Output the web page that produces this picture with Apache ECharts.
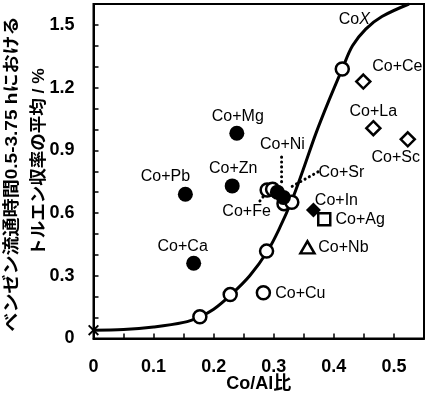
<!DOCTYPE html>
<html><head><meta charset="utf-8">
<script src="https://cdn.jsdelivr.net/npm/echarts@6/dist/echarts.min.js"></script>
<style>html,body{margin:0;padding:0;background:#fff}#c{width:428px;height:394px}</style>
</head><body><div id="c"></div>
<script>
// ---- data ----
const curveX = [0, 0.05, 0.1, 0.15, 0.177, 0.2, 0.229, 0.26, 0.29, 0.31, 0.33, 0.348, 0.37, 0.392, 0.414, 0.431, 0.453, 0.48, 0.525];
const curveY = [0.04, 0.043, 0.055, 0.077, 0.104, 0.14, 0.21, 0.30, 0.42, 0.53, 0.66, 0.80, 0.98, 1.14, 1.29, 1.40, 1.48, 1.54, 1.60];
const coxX = [0.177, 0.2275, 0.288, 0.317, 0.330, 0.414];
const coxY = [0.104, 0.21, 0.418, 0.645, 0.652, 1.289];
const baseX = [0];
const baseY = [0.04];
const filledNames = ['Co+Mg', 'Co+Zn', 'Co+Pb', 'Co+Ca', 'Co+Ni', 'Co+Sr'];
const filledX = [0.2385, 0.2308, 0.1529, 0.1667, 0.306, 0.316];
const filledY = [0.982, 0.730, 0.690, 0.360, 0.700, 0.675];
const diamondNames = ['Co+Ce', 'Co+La', 'Co+Sc'];
const diamondX = [0.449, 0.4657, 0.523];
const diamondY = [1.229, 1.006, 0.953];
const openNames = ['Co+Fe', 'Co+Fe', 'Co+Cu'];
const openX = [0.289, 0.298, 0.2827];
const openY = [0.710, 0.714, 0.219];
const inX = [0.366], inY = [0.615];
const agX = [0.384], agY = [0.570];
const nbX = [0.356], nbY = [0.436];
const leaderNiX = [0.313, 0.313], leaderNiY = [0.868, 0.744];
const leaderSrX = [0.3735, 0.327], leaderSrY = [0.797, 0.722];
const leaderFeX = [0.277, 0.287], leaderFeY = [0.658, 0.696];
const xTickLabels = ['0', '0.1', '0.2', '0.3', '0.4', '0.5'];
const yTickLabels = ['0', '0.3', '0.6', '0.9', '1.2', '1.5'];

// ---- styling ----
const zip = (a, b) => a.map((v, i) => [v, b[i]]);
const labelOffsets = {
  'Co+Mg': [1, -17], 'Co+Zn': [1, -17], 'Co+Pb': [-20, -18], 'Co+Ca': [-11, -17],
  'Co+Ni': [5, -48], 'Co+Sr': [58, -25], 'Co+Ce': [34, -15], 'Co+La': [0, -17],
  'Co+Sc': [-12, 18], 'Co+Cu': [37, 1], 'Co+In': [23, -9], 'Co+Ag': [36, 0], 'Co+Nb': [36, 0],
  'Co+Fe': [-26, 22]
};
const LF = 'Liberation Sans, Arial, sans-serif';
function labeled(names, xs, ys, skip) {
  return xs.map((x, i) => {
    const n = names[i];
    const item = { value: [x, ys[i]], name: n };
    if (!skip || !skip(i)) {
      item.label = { show: true, formatter: n, position: 'inside', offset: labelOffsets[n],
        fontSize: 16, fontFamily: LF, color: '#000', opacity: 1 };
    }
    return item;
  });
}
const xSym = 'path://M0,1.2L1.2,0L5,3.8L8.8,0L10,1.2L6.2,5L10,8.8L8.8,10L5,6.2L1.2,10L0,8.8L3.8,5Z';
const dotted = { color: '#000', width: 3, type: [0.1, 4.8], cap: 'round' };

const coxData = zip(coxX, coxY).map((v, i) => {
  const it = { value: v };
  if (i === coxX.length - 1) it.label = { show: true, position: 'inside', offset: [12, -49],
    formatter: 'Co{i|X}', fontSize: 16, fontFamily: LF, color: '#000',
    rich: { i: { fontStyle: 'italic', fontSize: 16, fontFamily: LF, color: '#000' } } };
  return it;
});

const chart = echarts.init(document.getElementById('c'), null, { renderer: 'canvas' });
chart.setOption({
  animation: false,
  backgroundColor: '#fff',
  grid: { left: 93.5, right: 4, top: 4, bottom: 55.5, containLabel: false, outerBoundsMode: 'none',
    show: true, borderColor: '#000', borderWidth: 2, backgroundColor: 'transparent' },
  xAxis: {
    type: 'value', min: 0, max: 0.55, interval: 0.05,
    name: 'Co/Al比', nameLocation: 'middle', nameGap: 37, nameMoveOverlap: false,
    nameTextStyle: { fontSize: 18, fontWeight: 'bold', fontFamily: 'Liberation Sans, Noto Sans CJK JP', color: '#000' },
    axisLine: { lineStyle: { color: '#000', width: 2 } },
    axisTick: { inside: true, length: 5, lineStyle: { color: '#000', width: 1.5 } },
    splitLine: { show: false },
    axisLabel: { margin: 20, fontSize: 18, fontWeight: 'bold', fontFamily: LF, color: '#000',
      showMaxLabel: false,
      formatter: v => { const k = Math.round(v * 10); return Math.abs(v * 10 - k) < 1e-6 && k < xTickLabels.length ? xTickLabels[k] : ''; } }
  },
  yAxis: {
    type: 'value', min: 0, max: 1.6, interval: 0.1,
    axisLine: { lineStyle: { color: '#000', width: 2 } },
    axisTick: { inside: true, length: 5, lineStyle: { color: '#000', width: 1.5 } },
    splitLine: { show: false },
    axisLabel: { margin: 19, fontSize: 18, fontWeight: 'bold', fontFamily: LF, color: '#000',
      formatter: v => { const t = v / 0.3; const k = Math.round(t); return Math.abs(t - k) < 1e-6 && k < yTickLabels.length ? yTickLabels[k] : ''; } }
  },
  graphic: [
    { type: 'text', x: 12, y: 174, rotation: Math.PI / 2, scaleX: 1.12,
      style: { text: 'ベンゼン流通時間0.5-3.75 hにおける', font: 'bold 17px "Liberation Sans", "Noto Sans CJK JP"', fill: '#000', align: 'center', verticalAlign: 'middle' } },
    { type: 'text', x: 39, y: 162, rotation: Math.PI / 2, scaleX: 1.03,
      style: { text: 'トルエン収率の平均 / %', font: 'bold 17px "Liberation Sans", "Noto Sans CJK JP"', fill: '#000', align: 'center', verticalAlign: 'middle' } }
  ],
  series: [
    { type: 'line', name: 'CoX curve', data: zip(curveX, curveY), smooth: 0.35, showSymbol: false, symbol: 'none',
      lineStyle: { color: '#000', width: 3 }, z: 2 },
    { type: 'line', data: zip(leaderNiX, leaderNiY), symbol: 'none', lineStyle: dotted, z: 2 },
    { type: 'line', data: zip(leaderSrX, leaderSrY), symbol: 'none', lineStyle: dotted, z: 2 },
    { type: 'line', data: zip(leaderFeX, leaderFeY), symbol: 'none', lineStyle: dotted, z: 2 },
    { type: 'scatter', name: 'base', data: zip(baseX, baseY), symbol: xSym, symbolSize: 11,
      itemStyle: { color: '#000', opacity: 1 }, z: 3 },
    { type: 'scatter', name: 'CoX', data: coxData, symbol: 'circle', symbolSize: 13,
      itemStyle: { color: '#fff', borderColor: '#000', borderWidth: 2.5, opacity: 1 }, z: 4 },
    { type: 'scatter', name: 'open', data: labeled(openNames, openX, openY, i => i === 0), symbol: 'circle', symbolSize: 13,
      itemStyle: { color: '#fff', borderColor: '#000', borderWidth: 2.5, opacity: 1 }, z: 4 },
    { type: 'scatter', name: 'filled', data: labeled(filledNames, filledX, filledY), symbol: 'circle', symbolSize: 15,
      itemStyle: { color: '#000', opacity: 1 }, z: 5 },
    { type: 'scatter', name: 'diamond', data: labeled(diamondNames, diamondX, diamondY), symbol: 'diamond', symbolSize: [14, 14],
      itemStyle: { color: '#fff', borderColor: '#000', borderWidth: 2.5, opacity: 1 }, z: 4 },
    { type: 'scatter', name: 'In', data: labeled(['Co+In'], inX, inY), symbol: 'diamond', symbolSize: [15, 15],
      itemStyle: { color: '#000', opacity: 1 }, z: 5 },
    { type: 'scatter', name: 'Ag', data: labeled(['Co+Ag'], agX, agY), symbol: 'rect', symbolSize: 12,
      itemStyle: { color: '#fff', borderColor: '#000', borderWidth: 2.5, opacity: 1 }, z: 6 },
    { type: 'scatter', name: 'Nb', data: labeled(['Co+Nb'], nbX, nbY), symbol: 'triangle', symbolSize: [14, 12],
      itemStyle: { color: '#fff', borderColor: '#000', borderWidth: 2.5, opacity: 1 }, z: 4 }
  ]
});
</script></body></html>
